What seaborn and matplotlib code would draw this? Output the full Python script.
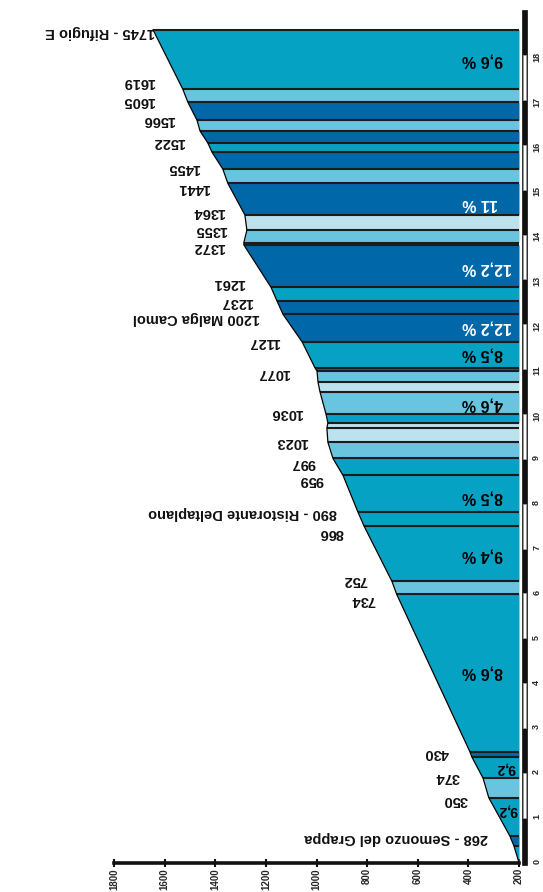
import matplotlib
matplotlib.use("Agg")
import matplotlib.pyplot as plt
import matplotlib.transforms as mtransforms
from matplotlib.patches import Rectangle
import seaborn as sns
import pandas as pd

# ---------------- data ----------------
# profile points: distance (km) and altitude (m) at each band boundary
km = [0, 0.37, 0.59, 1.44, 1.88, 2.35, 2.47, 5.99, 6.27, 7.50, 7.81, 8.63, 9.01, 9.37,
      9.69, 9.80, 10.01, 10.49, 10.71, 10.96, 11.03, 11.61, 12.22, 12.52, 12.83, 13.77,
      13.82, 14.10, 14.44, 15.14, 15.46, 15.84, 16.04, 16.31, 16.55, 16.95, 17.24, 18.57]
altitude = [200, 220, 236, 319, 342, 386, 394, 684, 702, 812, 836, 895, 935, 955,
            959, 955, 963, 986, 994, 998, 1006, 1057, 1132, 1156, 1180, 1287,
            1287, 1275, 1283, 1350, 1370, 1413, 1429, 1460, 1472, 1508, 1528, 1646]
# gradient class of each band (M medium, D steep, L light, V very light)
band_class = ["M", "D", "M", "L", "M", "D", "M", "L", "M", "M", "M", "M", "L", "V",
              "V", "M", "L", "V", "L", "D", "M", "D", "D", "M", "D", "V", "L", "V",
              "D", "L", "D", "M", "D", "L", "D", "L", "M"]

grade_labels = ["9,6 %", "11 %", "12,2 %", "12,2 %", "8,5 %", "4,6 %", "8,5 %",
                "9,4 %", "8,6 %", "9,2", "9,2"]
point_labels = ["1745 - Rifugio E", "1619", "1605", "1566", "1522", "1455", "1441",
                "1364", "1355", "1372", "1261", "1237", "1200 Malga Camol", "1127",
                "1077", "1036", "1023", "997", "959", "890 - Ristorante Deltaplano",
                "866", "752", "734", "430", "374", "350", "268 - Semonzo del Grappa"]
alt_ticks = [200, 400, 600, 800, 1000, 1200, 1400, 1600, 1800]
km_ticks = list(range(0, 19))

# ---------------- layout / style ----------------
W, H = 543, 892
X200, PX_PER_M = 519.0, 405.0 / 1600.0
Y0, PX_PER_KM = 862.5, 44.85


def px_to_alt(x):
    return 200 + (X200 - x) / PX_PER_M


def px_to_km(y):
    return (Y0 - y) / PX_PER_KM


class_colors = {"M": "#05a2c4", "D": "#0067a9", "L": "#68c4df", "V": "#bce2ee"}

grade_pos = [(462, 60), (462, 203), (462, 268), (462, 327), (462, 354), (462, 404),
             (462, 497), (462, 555), (462, 672), (516, 769), (517, 810)]
grade_color = ["black", "white", "white", "white", "black", "black", "black",
               "black", "black", "black", "black"]
point_pos = [(155, 32), (155, 82), (155, 101), (175, 120), (185, 142), (200, 168),
             (210, 188), (225, 212), (227, 230), (225, 247), (245, 283), (253, 302),
             (260, 318), (280, 342), (290, 373), (303, 413), (308, 442), (315, 463),
             (323, 480), (337, 513), (343, 533), (367, 580), (375, 600), (449, 753),
             (460, 777), (468, 800), (488, 838)]

sns.set_theme(style="white")
plt.rcParams["font.family"] = ["Liberation Sans", "DejaVu Sans"]

fig = plt.figure(figsize=(W / 100, H / 100), dpi=100)
ax = fig.add_axes([114 / W, (H - Y0) / H, 405 / W, 19 * PX_PER_KM / H])
ax.set_xlim(1800, 200)
ax.set_ylim(0, 19)

df = pd.DataFrame({"km": km, "altitude": altitude})

# coloured bands
for i, cls in enumerate(band_class):
    ax.fill_betweenx([km[i], km[i + 1]], [altitude[i], altitude[i + 1]], 200,
                     color=class_colors[cls], lw=0, zorder=1)
# band boundaries
for i in range(1, len(km)):
    ax.plot([200, altitude[i]], [km[i], km[i]], color="#1c1c1c", lw=1.5,
            solid_capstyle="butt", zorder=2)

# profile outline
sns.lineplot(data=df, x="altitude", y="km", sort=False, estimator=None,
             color="black", lw=0.9, ax=ax, zorder=3)

# grade labels
for txt, (px, py), c in zip(grade_labels, grade_pos, grade_color):
    small = "%" not in txt
    ax.text(px_to_alt(px), px_to_km(py), txt, rotation=180, rotation_mode="anchor",
            ha="left" if small else "right", va="center", color=c,
            fontsize=10 if small else 11.5, fontweight="bold", zorder=4)

# point labels
for txt, (px, py) in zip(point_labels, point_pos):
    ax.text(px_to_alt(px), px_to_km(py), txt, rotation=180, rotation_mode="anchor",
            ha="left", va="center", color="#111111", fontsize=10.5,
            fontweight="bold", zorder=4)

# km scale bar on the right
trans = mtransforms.blended_transform_factory(ax.transAxes, ax.transData)
bx0 = (521.5 - 114) / 405
bw = 5.5 / 405
ax.add_patch(Rectangle((bx0, -0.05), bw, 19.05, transform=trans, facecolor="#111111",
                       edgecolor="#111111", lw=0.5, clip_on=False, zorder=5))
for k in km_ticks[1::2]:
    ax.add_patch(Rectangle((bx0 + 1.2 / 405, k), bw - 2.4 / 405, 1, transform=trans,
                           facecolor="white", edgecolor="#999999", lw=0.6,
                           clip_on=False, zorder=6))

# axes styling
for s in ["top", "left", "right"]:
    ax.spines[s].set_visible(False)
ax.spines["bottom"].set_linewidth(2.6)
ax.spines["bottom"].set_color("#111111")
ax.set_xticks(alt_ticks)
ax.set_xticklabels([str(t) for t in alt_ticks])
ax.tick_params(axis="x", direction="inout", length=6, width=1.5, color="#111111",
               labelsize=7, labelrotation=90, pad=1, bottom=True)
ax.yaxis.tick_right()
ax.set_yticks(km_ticks)
ax.set_yticklabels([str(t) for t in km_ticks])
ax.tick_params(axis="y", length=0, pad=9.5, labelsize=6.5, labelrotation=90, right=True)
for lab in ax.get_xticklabels() + ax.get_yticklabels():
    lab.set_fontweight("bold")
ax.set_xlabel("")
ax.set_ylabel("")
ax.grid(False)

fig.savefig("out.png", dpi=100)
